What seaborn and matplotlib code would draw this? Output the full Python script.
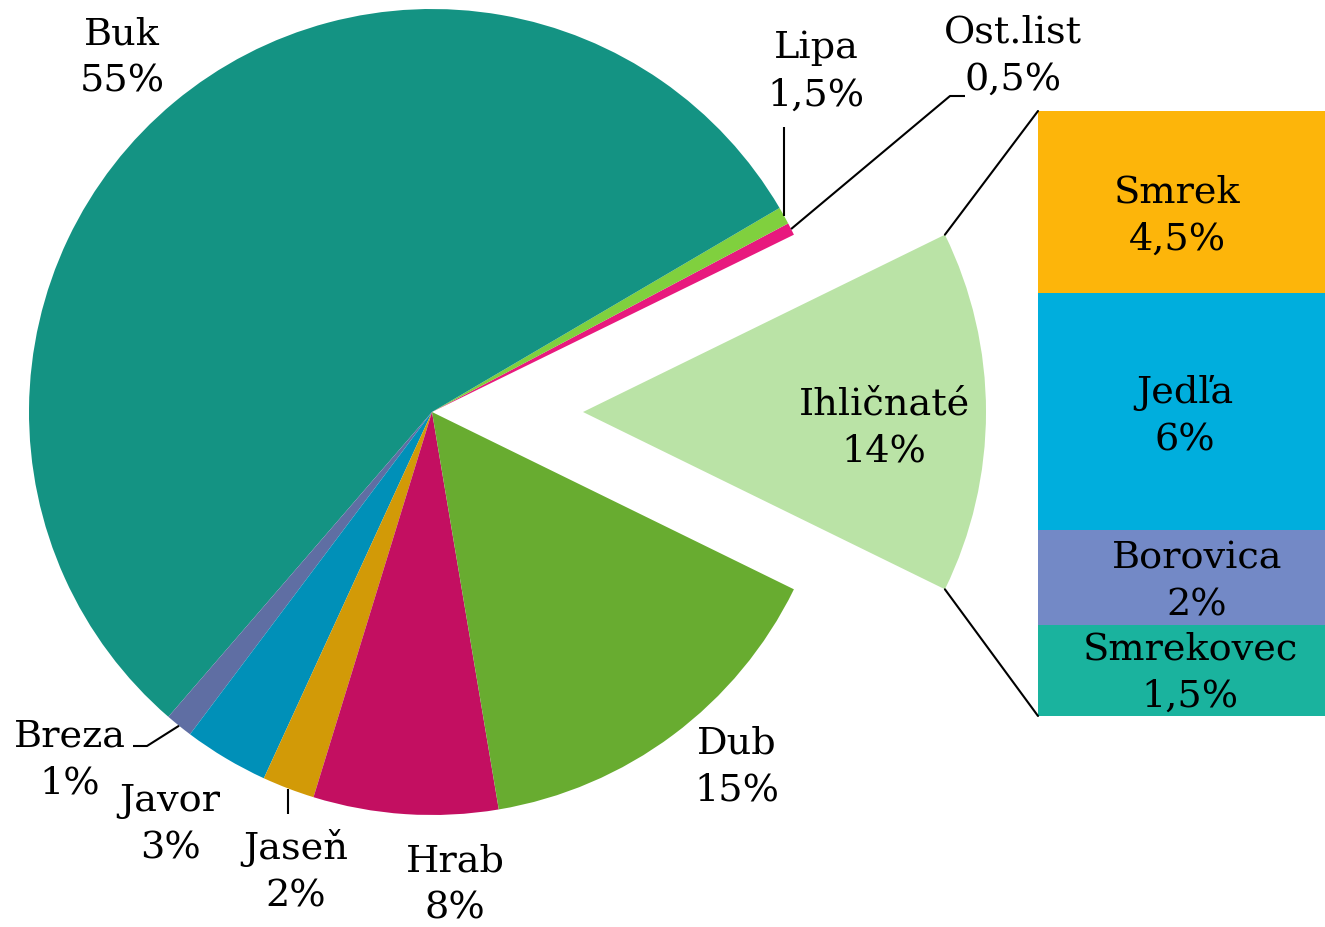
import numpy as np
import matplotlib
matplotlib.use("Agg")
import matplotlib.pyplot as plt
from matplotlib.patches import ConnectionPatch
import seaborn as sns

# Data: pie (listnaté + ihličnaté) and the split of ihličnaté
pie_names = ["Ihličnaté", "Ost.list", "Lipa", "Buk", "Breza", "Javor", "Jaseň", "Hrab", "Dub"]
pie_values = [14.5, 0.5, 0.7, 55.2, 1.1, 3.4, 2.1, 7.4, 15.1]
pie_labels = ["14%", "0,5%", "1,5%", "55%", "1%", "3%", "2%", "8%", "15%"]
pie_colors = ["#BAE3A6", "#E8197E", "#80D03E", "#149383", "#5F6EA3",
              "#0090B8", "#D29A07", "#C30F61", "#68AC30"]

bar_names = ["Smrekovec", "Borovica", "Jedľa", "Smrek"]
bar_values = [2.1, 2.2, 5.5, 4.2]
bar_labels = ["1,5%", "2%", "6%", "4,5%"]
bar_colors = ["#1AB39E", "#7389C6", "#00AEDD", "#FDB50A"]

W, H = 1325, 928

sns.set_theme(style="white")
plt.rcParams["font.family"] = ["DejaVu Serif"]
FS = 27.5
LS = 1.42

fig = plt.figure(figsize=(W / 100, H / 100), dpi=100)
ax = fig.add_axes([0, 0, 1, 1])

# pie centre / radius in pixel units (y measured from top)
cx, cy, R = 432, 413, 403
start = -pie_values[0] / 2 * 3.6
explode = [151] + [0] * (len(pie_values) - 1)
wedges, _ = ax.pie(pie_values, colors=pie_colors, startangle=start, counterclock=True,
                   explode=explode, center=(cx, H - cy), radius=R,
                   wedgeprops=dict(linewidth=0))
ax.set_xlim(0, W)
ax.set_ylim(0, H)
ax.set_aspect("equal")
ax.axis("off")

# stacked bar for ihličnaté
bax = fig.add_axes([1038 / W, (H - 717) / H, (W - 1038) / W, 605 / H])
bottom = 0
for v, c in zip(bar_values, bar_colors):
    bax.bar(0, v, bottom=bottom, width=1, align="edge", color=c, linewidth=0)
    bottom += v
bax.set_xlim(0, 1)
bax.set_ylim(0, sum(bar_values))
bax.axis("off")

# connector lines from exploded wedge to bar
w = wedges[0]
wx, wy = w.center
for ang, corner in [(w.theta2, (0, 1)), (w.theta1, (0, 0))]:
    p = (wx + w.r * np.cos(np.radians(ang)), wy + w.r * np.sin(np.radians(ang)))
    con = ConnectionPatch(xyA=p, coordsA=ax.transData, xyB=corner, coordsB=bax.transAxes,
                          color="black", lw=1.5)
    fig.add_artist(con)


def edge_point(i):
    wd = wedges[i]
    a = np.radians((wd.theta1 + wd.theta2) / 2)
    return wd.center[0] + wd.r * np.cos(a), wd.center[1] + wd.r * np.sin(a)


def leader(i, pts):
    x0, y0 = edge_point(i)
    xs = [x0] + [p[0] if p[0] is not None else x0 for p in pts]
    ys = [y0] + [H - p[1] for p in pts]
    ax.plot(xs, ys, color="black", lw=1.5, solid_capstyle="butt")


leader(2, [(None, 128)])               # Lipa
leader(1, [(950, 97), (965, 97)])      # Ost.list
leader(4, [(147, 747), (133, 747)])    # Breza
leader(6, [(None, 815)])               # Jaseň

# label positions (pixel coords, centre of two-line block)
pie_pos = {"Ihličnaté": (884, 428), "Ost.list": (1013, 56), "Lipa": (816, 72),
           "Buk": (122, 58), "Breza": (70, 760), "Javor": (170, 825),
           "Jaseň": (296, 872), "Hrab": (455, 885), "Dub": (737, 767)}
for n, lab in zip(pie_names, pie_labels):
    x, y = pie_pos[n]
    ax.text(x, H - y, f"{n}\n{lab}", ha="center", va="center", fontsize=FS,
            linespacing=LS, color="black")

bar_pos = {"Smrek": (1177, 216), "Jedľa": (1185, 417), "Borovica": (1197, 582),
           "Smrekovec": (1190, 673)}
for n, lab in zip(bar_names, bar_labels):
    x, y = bar_pos[n]
    bax.text(x, H - y, f"{n}\n{lab}", ha="center", va="center", fontsize=FS,
             linespacing=LS, color="black", transform=ax.transData, zorder=5)

fig.savefig("out.png", dpi=100, facecolor="white")
